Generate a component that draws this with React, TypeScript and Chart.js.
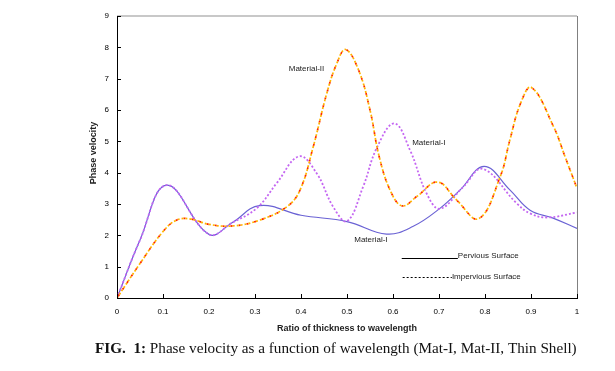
import React, { useEffect, useRef } from "react";
import { Chart, registerables } from "chart.js";
Chart.register(...registerables);

// Ratio of thickness to wavelength (x) and phase velocity (y)
const matIPerviousX = [0, 0.05, 0.108, 0.2, 0.25, 0.31, 0.4, 0.5, 0.586, 0.643, 0.702, 0.746, 0.798, 0.854, 0.898, 0.948, 1.0];
const matIPerviousY = [0, 1.85, 3.6, 2.03, 2.4, 2.95, 2.64, 2.44, 2.04, 2.28, 2.86, 3.45, 4.2, 3.45, 2.8, 2.55, 2.22];

const matIImperviousX = [0, 0.05, 0.108, 0.2, 0.25, 0.304, 0.347, 0.396, 0.434, 0.47, 0.5, 0.535, 0.565, 0.603, 0.637, 0.673, 0.702, 0.753, 0.795, 0.869, 0.898, 0.935, 1.0];
const matIImperviousY = [0, 1.85, 3.6, 2.03, 2.4, 2.87, 3.66, 4.52, 3.98, 2.91, 2.45, 3.55, 4.8, 5.57, 4.72, 3.34, 2.85, 3.55, 4.12, 3.02, 2.7, 2.57, 2.73];

const matIIImperviousX = [0, 0.05, 0.1, 0.13, 0.16, 0.2, 0.252, 0.311, 0.369, 0.398, 0.427, 0.456, 0.478, 0.497, 0.525, 0.55, 0.57, 0.595, 0.62, 0.651, 0.697, 0.738, 0.786, 0.833, 0.854, 0.877, 0.901, 0.949, 0.974, 1.0];
const matIIImperviousY = [0, 1.1, 2.12, 2.49, 2.52, 2.35, 2.3, 2.49, 2.91, 3.45, 4.85, 6.53, 7.49, 7.93, 7.28, 6.0, 4.51, 3.4, 2.94, 3.23, 3.7, 3.13, 2.53, 3.87, 5.04, 6.2, 6.72, 5.47, 4.51, 3.5];

// Annotation labels [text, x, y]
const curveLabels: [string, number, number][] = [
  ["Material-II", 0.412, 7.31],
  ["Material-I", 0.678, 4.96],
  ["Material-I", 0.552, 1.85],
];

const xTitle = "Ratio of thickness to wavelength";
const yTitle = "Phase velocity";
const captionBold = "FIG.  1:";
const captionText = " Phase velocity as a function of wavelength (Mat-I, Mat-II, Thin Shell)";

const pts = (xs: number[], ys: number[]) => xs.map((x, i) => ({ x, y: ys[i] }));

const SANS = '"Liberation Sans", Arial, sans-serif';
const SERIF = '"Liberation Serif", "Times New Roman", serif';

const overlay = {
  id: "overlay",
  afterDraw(chart: any) {
    const { ctx, chartArea: a, scales } = chart;
    const x = scales.x, y = scales.y;
    ctx.save();
    // top & right frame
    ctx.strokeStyle = "#c8c8c8";
    ctx.lineWidth = 2;
    ctx.beginPath();
    ctx.moveTo(a.left, a.top);
    ctx.lineTo(a.right, a.top);
    ctx.stroke();
    ctx.strokeStyle = "#808080";
    ctx.lineWidth = 1;
    ctx.beginPath();
    ctx.moveTo(a.right + 0.5, a.top);
    ctx.lineTo(a.right + 0.5, a.bottom);
    ctx.stroke();
    // inward ticks
    ctx.strokeStyle = "#000";
    ctx.lineWidth = 1;
    ctx.beginPath();
    y.ticks.forEach((t: any) => {
      const py = Math.round(y.getPixelForValue(t.value)) + 0.5;
      ctx.moveTo(a.left, py);
      ctx.lineTo(a.left + 4, py);
    });
    x.ticks.forEach((t: any) => {
      const px = Math.round(x.getPixelForValue(t.value)) + 0.5;
      ctx.moveTo(px, a.bottom);
      ctx.lineTo(px, a.bottom - 4);
    });
    ctx.stroke();

    // curve labels
    ctx.fillStyle = "#222";
    ctx.font = `8px ${SANS}`;
    ctx.textAlign = "center";
    ctx.textBaseline = "middle";
    curveLabels.forEach(([t, vx, vy]) => {
      ctx.fillText(t, x.getPixelForValue(vx), y.getPixelForValue(vy));
    });

    // legend
    const ly1 = Math.round(y.getPixelForValue(1.27)) + 0.5;
    const ly2 = Math.round(y.getPixelForValue(0.67)) + 0.5;
    ctx.strokeStyle = "#000";
    ctx.beginPath();
    ctx.moveTo(x.getPixelForValue(0.619), ly1);
    ctx.lineTo(x.getPixelForValue(0.741), ly1);
    ctx.stroke();
    ctx.setLineDash([2, 2]);
    ctx.beginPath();
    ctx.moveTo(x.getPixelForValue(0.621), ly2);
    ctx.lineTo(x.getPixelForValue(0.728), ly2);
    ctx.stroke();
    ctx.setLineDash([]);
    ctx.textAlign = "left";
    ctx.fillText("Pervious Surface", x.getPixelForValue(0.741), ly1 - 3);
    ctx.fillText("Impervious Surface", x.getPixelForValue(0.728), ly2 - 1);

    // axis titles
    ctx.fillStyle = "#222";
    ctx.font = `bold 9px ${SANS}`;
    ctx.textAlign = "center";
    ctx.fillText(xTitle, (a.left + a.right) / 2, 329);
    ctx.save();
    ctx.translate(94, 153);
    ctx.rotate(-Math.PI / 2);
    ctx.fillText(yTitle, 0, 0);
    ctx.restore();

    // caption
    ctx.fillStyle = "#111";
    ctx.textAlign = "left";
    ctx.font = `bold 15.2px ${SERIF}`;
    const bw = ctx.measureText(captionBold).width;
    ctx.fillText(captionBold, 95, 349);
    ctx.font = `15.2px ${SERIF}`;
    ctx.fillText(captionText, 95 + bw, 349);
    ctx.restore();
  },
};

export default function App() {
  const ref = useRef<HTMLCanvasElement>(null);
  useEffect(() => {
    if (!ref.current) return;
    const common = { pointRadius: 0, fill: false, tension: 0.4 };
    const chart = new Chart(ref.current, {
      type: "line",
      data: {
        datasets: [
          {
            ...common,
            label: "Material-II impervious (yellow dots)",
            data: pts(matIIImperviousX, matIIImperviousY),
            borderColor: "#ffb400",
            borderWidth: 1.7,
            borderDash: [2, 2],
          },
          {
            ...common,
            label: "Material-II impervious",
            data: pts(matIIImperviousX, matIIImperviousY),
            borderColor: "#ff2400",
            borderWidth: 1.7,
            borderDash: [2, 6],
            borderDashOffset: -2,
          },
          {
            ...common,
            label: "Material-I impervious",
            data: pts(matIImperviousX, matIImperviousY),
            borderColor: "#c466f2",
            borderWidth: 1.8,
            borderDash: [2, 2],
          },
          {
            ...common,
            label: "Material-I pervious",
            data: pts(matIPerviousX, matIPerviousY),
            borderColor: "#6a62d4",
            borderWidth: 1.2,
          },
        ],
      },
      options: {
        animation: false,
        responsive: false,
        maintainAspectRatio: false,
        layout: { padding: { top: 16, right: 38, left: 0, bottom: 0 } },
        plugins: { legend: { display: false }, tooltip: { enabled: false } },
        scales: {
          x: {
            type: "linear",
            min: 0,
            max: 1,
            grid: { display: false, drawTicks: false },
            border: { display: true, color: "#000", width: 1 },
            ticks: {
              stepSize: 0.1, padding: 9, color: "#000", font: { size: 8, family: SANS }, maxRotation: 0,
              callback: (v: any) => String(Number(Number(v).toFixed(1))),
            },
            afterFit: (s: any) => { s.height = 73; },
          },
          y: {
            type: "linear",
            min: 0,
            max: 9,
            grid: { display: false, drawTicks: false },
            border: { display: true, color: "#000", width: 1 },
            ticks: { stepSize: 1, padding: 8, color: "#000", font: { size: 8, family: SANS } },
            afterFit: (s: any) => { s.width = 117; },
          },
        },
      },
      plugins: [overlay],
    });
    return () => chart.destroy();
  }, []);
  return (
    <div style={{ position: "fixed", left: 0, top: 0, width: 615, height: 371, background: "#fff" }}>
      <canvas ref={ref} width={615} height={371} style={{ width: 615, height: 371 }} />
    </div>
  );
}
